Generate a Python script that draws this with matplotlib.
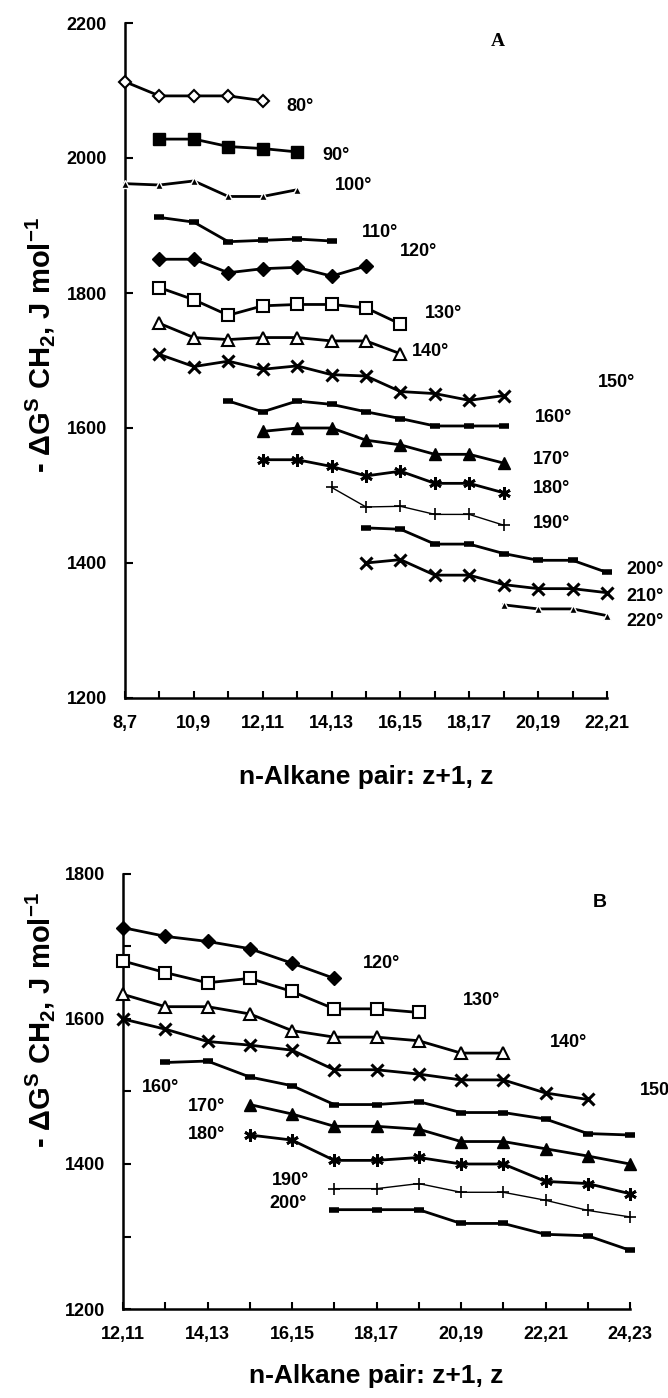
import matplotlib.pyplot as plt
import numpy as np

plt.rcParams['font.family'] = ['Liberation Sans', 'DejaVu Sans']
plt.rcParams['font.weight'] = 'bold'
plt.rcParams['mathtext.fontset'] = 'custom'
plt.rcParams['mathtext.rm'] = 'Liberation Sans:bold'
plt.rcParams['mathtext.it'] = 'Liberation Sans:bold'
plt.rcParams['mathtext.bf'] = 'Liberation Sans:bold'

# ---- panel A data (x = index of n-alkane pair, 8,7 -> 22,21) ----
a_ticklabels = ['8,7', '10,9', '12,11', '14,13', '16,15', '18,17', '20,19', '22,21']
a_temps = [80, 90, 100, 110, 120, 130, 140, 150, 160, 170, 180, 190, 200, 210, 220]
a_first = [0, 1, 0, 1, 1, 1, 1, 1, 3, 4, 4, 6, 7, 7, 11]
a_values = [
    [2113, 2092, 2092, 2092, 2085],
    [2028, 2028, 2017, 2014, 2009],
    [1962, 1960, 1966, 1943, 1943, 1953],
    [1912, 1905, 1876, 1878, 1880, 1877],
    [1850, 1850, 1830, 1836, 1838, 1825, 1840],
    [1808, 1790, 1767, 1781, 1783, 1783, 1778, 1754],
    [1755, 1734, 1731, 1734, 1734, 1729, 1729, 1710],
    [1709, 1691, 1699, 1687, 1692, 1679, 1677, 1654, 1651, 1641, 1648],
    [1640, 1624, 1640, 1635, 1624, 1614, 1603, 1603, 1603],
    [1595, 1600, 1600, 1582, 1575, 1561, 1561, 1548],
    [1553, 1553, 1543, 1529, 1536, 1518, 1518, 1504],
    [1512, 1483, 1484, 1472, 1472, 1456],
    [1452, 1450, 1428, 1428, 1414, 1404, 1404, 1386],
    [1400, 1405, 1382, 1382, 1368, 1362, 1362, 1356],
    [1338, 1332, 1332, 1322],
]

# ---- panel B data (x = index of n-alkane pair, 12,11 -> 24,23) ----
b_ticklabels = ['12,11', '14,13', '16,15', '18,17', '20,19', '22,21', '24,23']
b_temps = [120, 130, 140, 150, 160, 170, 180, 190, 200]
b_first = [0, 0, 0, 0, 1, 3, 3, 5, 5]
b_values = [
    [1726, 1714, 1707, 1697, 1677, 1656],
    [1680, 1664, 1650, 1656, 1638, 1614, 1614, 1609],
    [1634, 1617, 1617, 1607, 1584, 1575, 1575, 1570, 1553, 1553],
    [1600, 1586, 1569, 1564, 1557, 1530, 1530, 1524, 1516, 1516, 1498, 1489],
    [1540, 1542, 1520, 1508, 1482, 1482, 1486, 1471, 1471, 1462, 1442, 1440],
    [1482, 1469, 1452, 1452, 1448, 1431, 1431, 1421, 1411, 1400],
    [1440, 1433, 1405, 1405, 1409, 1400, 1400, 1376, 1373, 1359],
    [1366, 1366, 1373, 1361, 1361, 1350, 1336, 1327],
    [1337, 1337, 1337, 1318, 1318, 1303, 1301, 1281],
]

# marker style per temperature
styles = {
    80: dict(marker='D', mfc='white', ms=6.5, mew=1.5, lw=2.0),
    90: dict(marker='s', mfc='black', ms=8.5, mew=1.0, lw=2.0),
    100: dict(marker='^', mfc='black', ms=6, mew=1.0, mec='white', lw=2.0),
    110: dict(marker='_', mfc='black', ms=7, mew=4, lw=2.0),
    120: dict(marker='D', mfc='black', ms=7, mew=1.0, lw=2.0),
    130: dict(marker='s', mfc='white', ms=8, mew=1.5, lw=2.0),
    140: dict(marker='^', mfc='white', ms=8.5, mew=1.5, lw=2.0),
    150: dict(marker='x', mfc='black', ms=8, mew=2.2, lw=2.0),
    160: dict(marker='_', mfc='black', ms=7, mew=4, lw=2.0),
    170: dict(marker='^', mfc='black', ms=8.5, mew=1.0, lw=2.0),
    180: dict(marker=(6, 2, 0), mfc='black', ms=9, mew=2.0, lw=2.0),
    190: dict(marker='+', mfc='black', ms=9, mew=1.2, lw=1.0),
    200: dict(marker='_', mfc='black', ms=7, mew=4, lw=2.0),
    210: dict(marker='x', mfc='black', ms=8, mew=2.2, lw=2.0),
    220: dict(marker='^', mfc='black', ms=6, mew=1.0, mec='white', lw=2.0),
}

# label anchors (data coords) for the temperature annotations
a_label_pos = {80: (4.70, 2077), 90: (5.72, 2004), 100: (6.10, 1960), 110: (6.88, 1890),
               120: (7.98, 1861), 130: (8.71, 1770), 140: (8.33, 1713), 150: (13.73, 1668),
               160: (11.9, 1616), 170: (11.84, 1554), 180: (11.84, 1511), 190: (11.84, 1458),
               200: (14.57, 1390), 210: (14.57, 1351), 220: (14.57, 1313)}
b_label_pos = {120: (5.68, 1676), 130: (8.05, 1626), 140: (10.1, 1567), 150: (12.24, 1502),
               160: (0.45, 1505), 170: (1.54, 1479), 180: (1.54, 1440), 190: (3.53, 1377),
               200: (3.46, 1346)}
# labels that run off the right edge of the page in the source
cut_labels = {('B', 150): '150'}


def draw_series(ax, panel, temps, firsts, values, label_pos):
    for t, f, vals in zip(temps, firsts, values):
        st = dict(styles[t])
        mec = st.pop('mec', 'black')
        lw = st.pop('lw')
        x = np.arange(f, f + len(vals))
        ax.plot(x, vals, color='black', lw=lw, mec=mec, clip_on=False, zorder=3, **st)
        lx, ly = label_pos[t]
        txt = cut_labels.get((panel, t), f'{t}°')
        ax.text(lx, ly, txt, fontsize=13, fontweight='bold', ha='left', va='center',
                clip_on=False)


def style_axes(ax, npos, ticklabels, xlabelpad):
    for side in ['top', 'right']:
        ax.spines[side].set_visible(False)
    for side in ['left', 'bottom']:
        ax.spines[side].set_linewidth(1.8)
    ax.set_xlim(0, npos - 1)
    ax.set_xticks(np.arange(npos), minor=True)
    ax.set_xticks(np.arange(0, npos, 2))
    ax.set_xticklabels(ticklabels)
    ax.tick_params(axis='both', which='both', direction='in', width=1.5, labelsize=13)
    ax.tick_params(axis='x', which='both', length=5, pad=12)
    ax.tick_params(axis='y', which='both', length=6, pad=13)
    for lab in ax.get_xticklabels() + ax.get_yticklabels():
        lab.set_fontweight('bold')
    ax.set_xlabel('n-Alkane pair: z+1, z', fontsize=19, fontweight='bold', labelpad=xlabelpad)


fig = plt.figure(figsize=(6.68, 13.98), dpi=100)

# panel A
axA = fig.add_axes([125 / 668, 1 - 698 / 1398, 482 / 668, 675 / 1398])
draw_series(axA, 'A', a_temps, a_first, a_values, a_label_pos)
style_axes(axA, 15, a_ticklabels, 24)
axA.set_ylim(1200, 2200)
axA.set_yticks(np.arange(1200, 2201, 200))
axA.text(10.83, 2172, 'A', fontsize=14, fontweight='bold', family='Liberation Serif',
         ha='center', va='center')

# panel B
axB = fig.add_axes([123 / 668, 1 - 1309 / 1398, 507 / 668, 435 / 1398])
draw_series(axB, 'B', b_temps, b_first, b_values, b_label_pos)
style_axes(axB, 13, b_ticklabels, 15)
axB.set_ylim(1200, 1800)
axB.set_yticks(np.arange(1200, 1801, 200))
axB.set_yticks(np.arange(1200, 1801, 100), minor=True)
axB.text(11.29, 1760, 'B', fontsize=14, fontweight='bold', ha='center', va='center')

ylab = '- ΔG$^{S}$ CH$_{2}$, J mol$^{-1}$'
fig.text(40 / 668, 1 - 345 / 1398, ylab, rotation=90, fontsize=21, fontweight='bold',
         ha='center', va='center')
fig.text(40 / 668, 1 - 1020 / 1398, ylab, rotation=90, fontsize=21, fontweight='bold',
         ha='center', va='center')

fig.savefig('out.png', dpi=100)
